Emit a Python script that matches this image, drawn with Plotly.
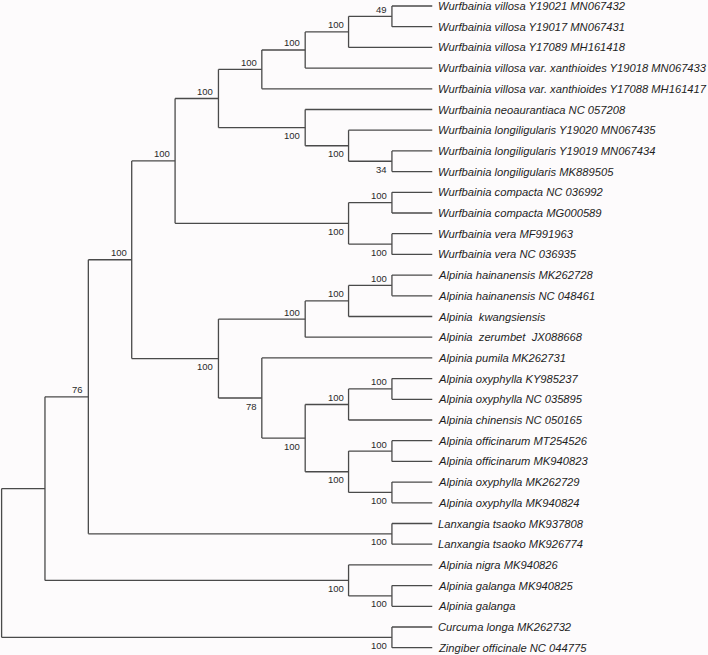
import plotly.graph_objects as go

# ---- data ----
tip_labels = [
    "Wurfbainia villosa Y19021 MN067432",
    "Wurfbainia villosa Y19017 MN067431",
    "Wurfbainia villosa Y17089 MH161418",
    "Wurfbainia villosa var. xanthioides Y19018 MN067433",
    "Wurfbainia villosa var. xanthioides Y17088 MH161417",
    "Wurfbainia neoaurantiaca NC 057208",
    "Wurfbainia longiligularis Y19020 MN067435",
    "Wurfbainia longiligularis Y19019 MN067434",
    "Wurfbainia longiligularis MK889505",
    "Wurfbainia compacta NC 036992",
    "Wurfbainia compacta MG000589",
    "Wurfbainia vera MF991963",
    "Wurfbainia vera NC 036935",
    "Alpinia hainanensis MK262728",
    "Alpinia hainanensis NC 048461",
    "Alpinia\u00a0 kwangsiensis",
    "Alpinia\u00a0 zerumbet\u00a0 JX088668",
    "Alpinia pumila MK262731",
    "Alpinia oxyphylla KY985237",
    "Alpinia oxyphylla NC 035895",
    "Alpinia chinensis NC 050165",
    "Alpinia officinarum MT254526",
    "Alpinia officinarum MK940823",
    "Alpinia oxyphylla MK262729",
    "Alpinia oxyphylla MK940824",
    "Lanxangia tsaoko MK937808",
    "Lanxangia tsaoko MK926774",
    "Alpinia nigra MK940826",
    "Alpinia galanga MK940825",
    "Alpinia galanga",
    "Curcuma longa MK262732",
    "Zingiber officinale NC 044775",
]

node_names = ["I", "H", "G", "F", "L", "K", "J", "E", "N", "O", "M", "D",
              "S", "T", "Q", "X", "V", "Y", "Z", "W", "U", "R", "P", "C",
              "AA", "B", "CC", "BB", "A", "DD", "root"]
node_children = [
    ["t0", "t1"], ["I", "t2"], ["H", "t3"], ["G", "t4"],
    ["t7", "t8"], ["t6", "L"], ["t5", "K"], ["F", "J"],
    ["t9", "t10"], ["t11", "t12"], ["N", "O"], ["E", "M"],
    ["t13", "t14"], ["S", "t15"], ["T", "t16"],
    ["t18", "t19"], ["X", "t20"], ["t21", "t22"], ["t23", "t24"], ["Y", "Z"],
    ["V", "W"], ["t17", "U"], ["Q", "R"], ["D", "P"],
    ["t25", "t26"], ["C", "AA"], ["t28", "t29"], ["t27", "CC"], ["B", "BB"],
    ["t30", "t31"], ["A", "DD"],
]
node_level = [9, 8, 7, 6, 9, 8, 7, 5, 9, 9, 8, 4,
              9, 8, 7, 9, 8, 9, 9, 8, 7, 6, 5, 3,
              9, 2, 9, 8, 1, 9, 0]
node_support = ["49", "100", "100", "100", "34", "100", "100", "100", "100", "100", "100", "100",
                "100", "100", "100", "100", "100", "100", "100", "100", "100", "78", "100", "100",
                "100", "76", "100", "100", "", "100", ""]
tip_level = 9.93

# ---- layout computation ----
pos_x = {}
pos_y = {}
for i in range(len(tip_labels)):
    pos_x[f"t{i}"] = tip_level
    pos_y[f"t{i}"] = i
for name, ch, lv in zip(node_names, node_children, node_level):
    pos_x[name] = lv
    pos_y[name] = sum(pos_y[c] for c in ch) / len(ch)

parent_of = {}
for name, ch in zip(node_names, node_children):
    for k, c in enumerate(ch):
        parent_of[c] = (name, k)

lx, ly = [], []
for name, ch in zip(node_names, node_children):
    x0 = pos_x[name]
    ys = [pos_y[c] for c in ch]
    lx += [x0, x0, None]
    ly += [min(ys), max(ys), None]
    for c in ch:
        lx += [x0, pos_x[c], None]
        ly += [pos_y[c], pos_y[c], None]

LINE = "#4a4a4a"
fig = go.Figure()
fig.add_trace(go.Scatter(x=lx, y=ly, mode="lines",
                         line=dict(color=LINE, width=1.3),
                         hoverinfo="skip", showlegend=False, cliponaxis=False))

annotations = []
for i, lab in enumerate(tip_labels):
    annotations.append(dict(x=tip_level, y=i, text=f"<i>{lab}</i>", xanchor="left",
                            yanchor="middle", showarrow=False, xshift=4,
                            font=dict(family="Liberation Sans, Arial", size=11.2, color="#1e1e1e")))
for name, sup in zip(node_names, node_support):
    if not sup or name not in parent_of:
        continue
    above = parent_of[name][1] == 0
    annotations.append(dict(x=pos_x[name], y=pos_y[name], text=sup, xanchor="right",
                            yanchor="middle", showarrow=False, xshift=-3,
                            yshift=7 if above else -8,
                            font=dict(family="Liberation Sans, Arial", size=9.5, color="#2a2a2a")))

W, H = 708, 655
x0px, dxpx = 1.6, 43.37
y0px, dypx = 6.0, 20.7
fig.update_layout(
    width=W, height=H,
    margin=dict(l=0, r=0, t=0, b=0),
    paper_bgcolor="#fdfbfc", plot_bgcolor="#fdfbfc",
    xaxis=dict(range=[-x0px / dxpx, (W - x0px) / dxpx], visible=False, fixedrange=True),
    yaxis=dict(range=[(H - y0px) / dypx, -y0px / dypx], visible=False, fixedrange=True),
    annotations=annotations,
)
fig.write_html(
    "out.html",
    config={"displayModeBar": False},
    post_script="document.body.style.margin='0';document.body.style.background='#fdfbfc';",
)
